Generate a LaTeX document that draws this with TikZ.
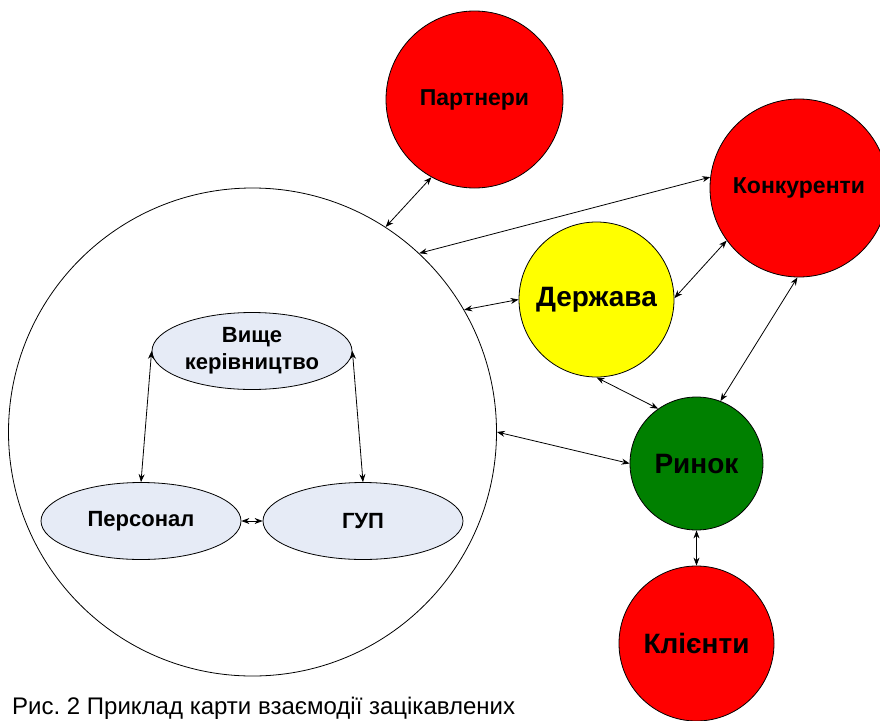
\documentclass[tikz,border=0pt]{standalone}
\usepackage{fontspec}
\setmainfont{Liberation Sans}
\usetikzlibrary{arrows.meta,shapes.geometric}
\frenchspacing

\definecolor{stakered}{RGB}{255,0,0}
\definecolor{stakeyellow}{RGB}{255,255,0}
\definecolor{stakegreen}{RGB}{0,128,0}
\definecolor{innerfill}{RGB}{230,235,246}

\tikzset{
  ring/.style={circle, draw=black, line width=0.8pt, inner sep=0pt},
  outerbox/.style={ring, font=\bfseries\fontsize{23}{27}\selectfont},
  bigbox/.style={ring, font=\bfseries\fontsize{28}{33}\selectfont},
  innerbox/.style={ellipse, draw=black, line width=0.8pt, fill=innerfill, inner sep=0pt,
    minimum width=200pt, minimum height=77pt, align=center,
    font=\bfseries\fontsize{22}{27}\selectfont},
  biarrow/.style={line width=0.8pt, {Stealth[length=8pt,width=6pt]}-{Stealth[length=8pt,width=6pt]}}
}

\begin{document}
\begin{tikzpicture}[x=1pt,y=-1pt]
  \useasboundingbox (0,0) rectangle (880,720);
  \clip (0,0) rectangle (880,720);

  % organisation (large circle) with its internal groups
  \node[ring, minimum size=488pt] (org) at (252.5,432) {};
  \node[innerbox] (top)  at (252,351) {Вище\\керівництво};
  \node[innerbox] (pers) at (141,521) {Персонал};
  \node[innerbox] (gup)  at (363,521) {ГУП};

  % external stakeholders
  \node[outerbox, fill=stakered, minimum size=177pt] (partn) at (474.5,99.5) {Партнери};
  \node[outerbox, fill=stakered, minimum size=178pt] (konk) at (799,188) {Конкуренти};
  \node[bigbox, fill=stakeyellow, minimum size=155pt] (derzh) at (596.5,299.5) {Держава};
  \node[bigbox, fill=stakegreen, minimum size=133pt] (rynok) at (696.5,463.5) {Ринок};
  \node[bigbox, fill=stakered, minimum size=155pt] (klient) at (696.5,643.5) {Клієнти};

  % links between the organisation and the environment
  \draw[biarrow] (org.57) -- (partn.241);
  \draw[biarrow] (org.47.6) -- (konk.173);
  \draw[biarrow] (org.30) -- (derzh.west);
  \draw[biarrow] (org.0) -- (rynok.west);
  \draw[biarrow] (derzh.1) -- (konk.216);
  \draw[biarrow] (derzh.270) -- (rynok.125);
  \draw[biarrow] (konk.269) -- (rynok.69);
  \draw[biarrow] (rynok.south) -- (klient.north);

  % links inside the organisation
  \draw[biarrow] (top.west) -- (pers.north);
  \draw[biarrow] (top.east) -- (gup.north);
  \draw[biarrow] (pers.east) -- (gup.west);

  % caption
  \node[anchor=base west, inner sep=0pt, font=\fontsize{24}{28}\selectfont] (cap) at (12,714)
    {Рис. 2 Приклад карти взаємодії зацікавлених};
\end{tikzpicture}
\end{document}
